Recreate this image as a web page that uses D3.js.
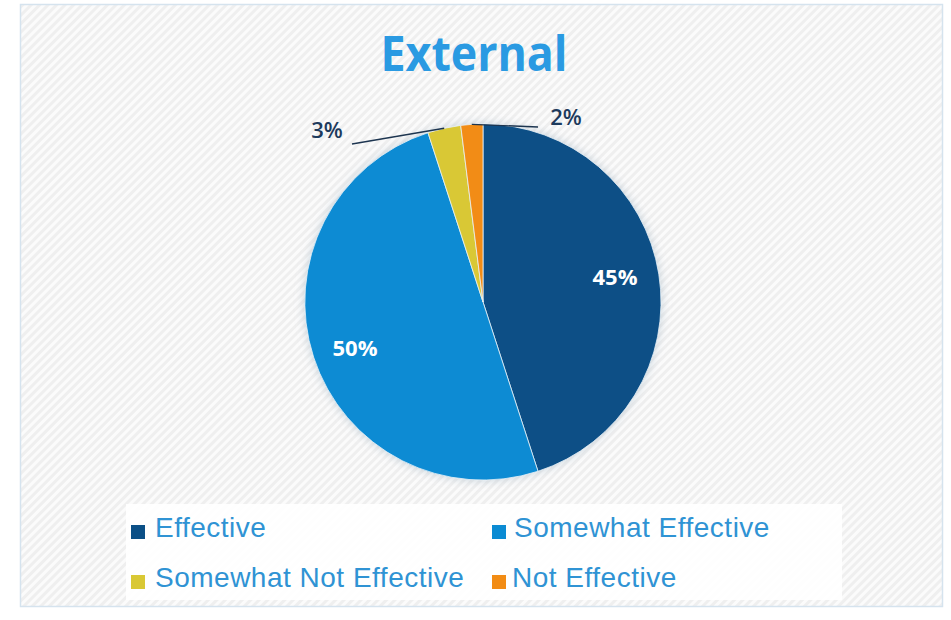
<!DOCTYPE html>
<html>
<head>
<meta charset="utf-8">
<script src="https://cdn.jsdelivr.net/npm/d3@7"></script>
<style>
  html, body { margin: 0; padding: 0; background: #ffffff; }
  svg { display: block; }
</style>
</head>
<body>
<script>
// Survey results: how effective the external channel was rated
const categories = ["Effective", "Somewhat Effective", "Somewhat Not Effective", "Not Effective"];
const values = [45, 50, 3, 2];
const valueLabels = ["45%", "50%", "3%", "2%"];
const colors = ["#0b4f86", "#0b8bd3", "#d9c834", "#f28c14"];

const W = 951, H = 620;
const svg = d3.select("body").append("svg").attr("width", W).attr("height", H);
const defs = svg.append("defs");

// light diagonal hatch for the plot background
const pat = defs.append("pattern")
  .attr("id", "hatch").attr("patternUnits", "userSpaceOnUse")
  .attr("width", 6).attr("height", 6)
  .attr("patternTransform", "rotate(45)");
pat.append("rect").attr("width", 6).attr("height", 6).attr("fill", "#fbfbfb");
pat.append("rect").attr("width", 3).attr("height", 6).attr("fill", "#efefef");

// soft shadow around the pie
const f = defs.append("filter").attr("id", "glow")
  .attr("x", "-20%").attr("y", "-20%").attr("width", "140%").attr("height", "140%");
f.append("feGaussianBlur").attr("in", "SourceAlpha").attr("stdDeviation", 5).attr("result", "b");
f.append("feFlood").attr("flood-color", "#9fb3c4").attr("flood-opacity", 0.55);
f.append("feComposite").attr("in2", "b").attr("operator", "in").attr("result", "s");
const fm = f.append("feMerge");
fm.append("feMergeNode").attr("in", "s");
fm.append("feMergeNode").attr("in", "SourceGraphic");

// chart frame
svg.append("rect").attr("x", 20.5).attr("y", 4.5).attr("width", 922).attr("height", 602)
  .attr("fill", "url(#hatch)").attr("stroke", "#d5e3ee").attr("stroke-width", 1.5);

// title
svg.append("text")
  .attr("x", 474).attr("y", 71)
  .attr("text-anchor", "middle")
  .attr("font-family", "'Open Sans', sans-serif")
  .attr("font-weight", "bold").attr("font-size", 48)
  .attr("textLength", 187).attr("lengthAdjust", "spacingAndGlyphs")
  .attr("fill", "#2a9ae2")
  .text("External");

// pie
const cx = 483, cy = 302, R = 178;
const pie = d3.pie().sort(null).value(d => d)(values);
const arc = d3.arc().innerRadius(0).outerRadius(R);
const g = svg.append("g").attr("transform", `translate(${cx},${cy})`);

g.append("g").attr("filter", "url(#glow)")
  .selectAll("path").data(pie).join("path")
  .attr("d", arc)
  .attr("fill", (d, i) => colors[i])
  .attr("stroke", "#e9f1f7").attr("stroke-width", 0.8);

// inside labels for the large slices
const inPos = [[132, -25], [-128, 46]];
g.selectAll("text.in").data(pie.slice(0, 2)).join("text")
  .attr("class", "in")
  .attr("x", (d, i) => inPos[i][0]).attr("y", (d, i) => inPos[i][1])
  .attr("text-anchor", "middle").attr("dy", "0.35em")
  .attr("font-family", "'Open Sans', sans-serif").attr("font-weight", "bold")
  .attr("font-size", 22).attr("fill", "#ffffff")
  .text((d, i) => valueLabels[i]);

// outside labels with leader lines for the small slices
const edge = d3.arc().innerRadius(R).outerRadius(R);
const outside = [
  { idx: 2, end: [-131, -158], label: [-156, -172] },
  { idx: 3, end: [55, -175], label: [83, -185] }
];
outside.forEach(o => {
  const d = pie[o.idx];
  const [ex, ey] = edge.centroid(d);
  g.append("line")
    .attr("x1", ex).attr("y1", ey).attr("x2", o.end[0]).attr("y2", o.end[1])
    .attr("stroke", "#1d3550").attr("stroke-width", 1.4);
  g.append("text")
    .attr("x", o.label[0]).attr("y", o.label[1])
    .attr("text-anchor", "middle").attr("dy", "0.35em")
    .attr("font-family", "'Open Sans', sans-serif").attr("font-weight", "600")
    .attr("font-size", 22).attr("fill", "#1d3a5c")
    .text(valueLabels[o.idx]);
});

// legend
svg.append("rect").attr("x", 126).attr("y", 504).attr("width", 716).attr("height", 96)
  .attr("fill", "#ffffff").attr("opacity", 0.9);

const legendPos = [
  { x: 131, y: 537 }, { x: 492, y: 537 },
  { x: 131, y: 587 }, { x: 492, y: 587 }
];
const textDx = [24, 22, 24, 20];
const lg = svg.append("g").selectAll("g").data(categories).join("g")
  .attr("transform", (d, i) => `translate(${legendPos[i].x},${legendPos[i].y})`);
lg.append("rect")
  .attr("x", 0).attr("y", -12).attr("width", 14).attr("height", 14)
  .attr("fill", (d, i) => colors[i]);
lg.append("text")
  .attr("x", (d, i) => textDx[i]).attr("y", 0)
  .attr("font-family", "'Liberation Sans', Arial, sans-serif")
  .attr("font-size", 28).attr("letter-spacing", 0.5).attr("fill", "#2f93d4")
  .text(d => d);
</script>
</body>
</html>
